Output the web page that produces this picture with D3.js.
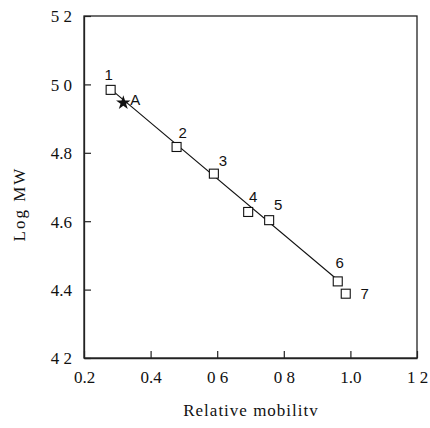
<!DOCTYPE html>
<meta charset="utf-8">
<style>
  body { margin: 0; background: #fff; }
  text { fill: #111; }
</style>
<svg width="430" height="428"></svg>
<script src="https://d3js.org/d3.v7.min.js"></script>
<script>
// markers (relative mobility, log MW)
const stdLabels = ["1", "2", "3", "4", "5", "6", "7"]
const stdMobility = [0.280, 0.478, 0.590, 0.693, 0.756, 0.962, 0.986]
const stdLogMW = [4.984, 4.817, 4.739, 4.627, 4.603, 4.424, 4.388]

// unknown sample
const sampleLabel = "A"
const sampleMobility = [0.318]
const sampleLogMW = [4.946]

// regression line ends
const fitMobility = [0.280, 0.962]
const fitLogMW = [4.986, 4.428]

const xTicks = [0.2, 0.4, 0.6, 0.8, 1.0, 1.2]
const xTickLabels = ["0.2", "0.4", "0 6", "0 8", "1.0", "1 2"]
const yTicks = [4.2, 4.4, 4.6, 4.8, 5.0, 5.2]
const yTickLabels = ["4 2", "4.4", "4.6", "4.8", "5 0", "5 2"]

const plotL = 84, plotR = 417, plotT = 16, plotB = 358
const serif = 'Liberation Serif, DejaVu Serif, serif'
const sans = 'Liberation Sans, Arial, sans-serif'
const svg = d3.select('svg')

const x = d3.scaleLinear().domain([0.2, 1.2]).range([plotL, plotR])
const y = d3.scaleLinear().domain([4.2, 5.2]).range([plotB, plotT])

// frame
svg.append('rect')
	.attr('x', plotL).attr('y', plotT)
	.attr('width', plotR - plotL).attr('height', plotB - plotT)
	.attr('fill', 'none').attr('stroke', '#222').attr('stroke-width', 1.3)

// axes, ticks pointing inward
const xAxis = svg.append('g')
	.attr('transform', `translate(0,${plotB})`)
	.call(d3.axisBottom(x).tickValues(xTicks).tickSizeInner(-7).tickSizeOuter(0)
		.tickPadding(13).tickFormat((d, i) => xTickLabels[i]))
const yAxis = svg.append('g')
	.attr('transform', `translate(${plotL},0)`)
	.call(d3.axisLeft(y).tickValues(yTicks).tickSizeInner(-7).tickSizeOuter(0)
		.tickPadding(12).tickFormat((d, i) => yTickLabels[i]))

for (const ax of [xAxis, yAxis]) {
	ax.attr('font-family', serif)
	ax.select('.domain').attr('stroke', '#222').attr('stroke-width', 1.3)
	ax.selectAll('.tick line').attr('stroke', '#222').attr('stroke-width', 1.2)
	ax.selectAll('.tick text')
		.style('font-family', serif)
		.attr('font-size', 17).attr('fill', '#111')
}
yAxis.selectAll('.tick text').attr('dy', '0.35em')
xAxis.selectAll('.tick text').attr('dy', '0.71em')

// axis titles
svg.append('text')
	.attr('x', 251).attr('y', 416)
	.attr('text-anchor', 'middle')
	.style('font-family', serif)
	.attr('font-size', 17)
	.attr('letter-spacing', 1)
	.text('Relative mobilitv')

svg.append('text')
	.attr('transform', 'translate(25,204) rotate(-90)')
	.attr('text-anchor', 'middle')
	.style('font-family', serif)
	.attr('font-size', 17)
	.attr('letter-spacing', 2)
	.text('Log MW')

// fitted line
const line = d3.line().x(d => x(d[0])).y(d => y(d[1]))
svg.append('path')
	.datum(d3.zip(fitMobility, fitLogMW))
	.attr('d', line)
	.attr('fill', 'none').attr('stroke', '#111').attr('stroke-width', 1.1)

// standards: hollow squares
const std = stdLabels.map((l, i) => ({ label: l, mx: stdMobility[i], my: stdLogMW[i] }))
svg.append('g').selectAll('rect')
	.data(std)
	.enter().append('rect')
	.attr('x', d => x(d.mx) - 4.5)
	.attr('y', d => y(d.my) - 4.5)
	.attr('width', 9).attr('height', 9)
	.attr('fill', '#fff').attr('stroke', '#111').attr('stroke-width', 1.1)

const labelOffset = {
	"1": [-2, -10], "2": [6, -9], "3": [9, -8], "4": [5, -10],
	"5": [9, -10], "6": [2, -13], "7": [19, 5]
}
svg.append('g').selectAll('text')
	.data(std)
	.enter().append('text')
	.attr('x', d => x(d.mx) + labelOffset[d.label][0])
	.attr('y', d => y(d.my) + labelOffset[d.label][1])
	.attr('text-anchor', 'middle')
	.style('font-family', sans)
	.attr('font-size', 15)
	.text(d => d.label)

// sample A: filled star
svg.append('g').selectAll('path')
	.data(d3.zip(sampleMobility, sampleLogMW))
	.enter().append('path')
	.attr('transform', d => `translate(${x(d[0])},${y(d[1])})`)
	.attr('d', d3.symbol(d3.symbolStar, 65))
	.attr('fill', '#111')

svg.append('text')
	.attr('x', x(sampleMobility[0]) + 7)
	.attr('y', y(sampleLogMW[0]) + 2)
	.style('font-family', sans)
	.attr('font-size', 15)
	.text(sampleLabel)
</script>
